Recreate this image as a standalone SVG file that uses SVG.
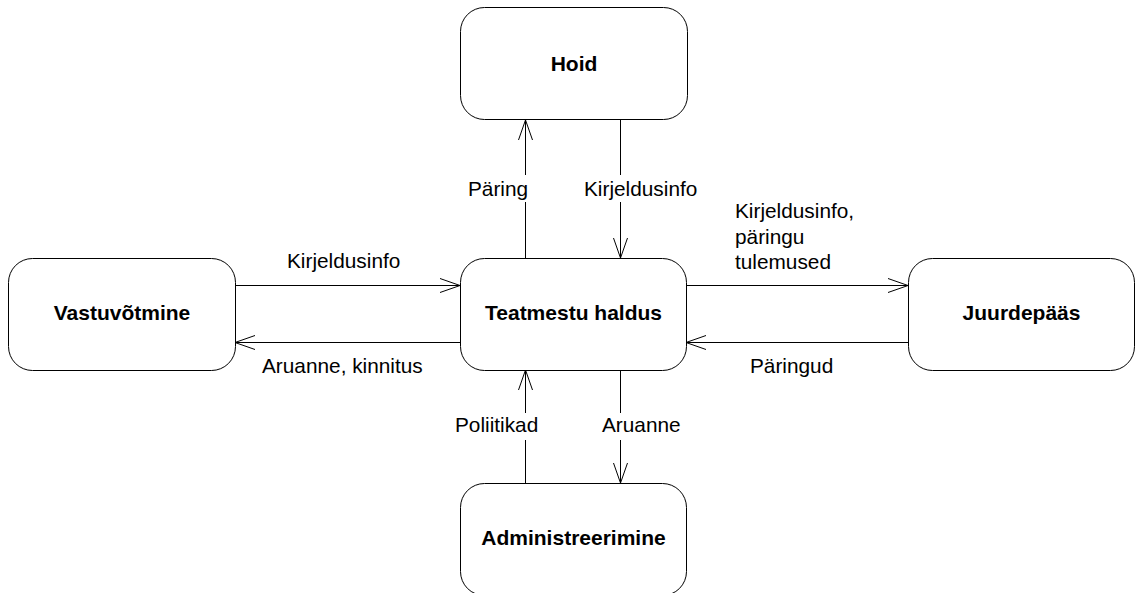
<svg xmlns="http://www.w3.org/2000/svg" width="1136" height="593" viewBox="0 0 1136 593">
  <style>
    .box { fill: #ffffff; stroke: #000000; stroke-width: 1; }
    .title { font-family: "Liberation Sans", Arial, sans-serif; font-size: 21px; font-weight: bold; fill: #000000; text-anchor: middle; }
    .flow { fill: none; stroke: #000000; stroke-width: 1; marker-end: url(#open); }
    .lbl { font-family: "Liberation Sans", Arial, sans-serif; font-size: 20.8px; fill: #000000; }
  </style>
  <defs>
    <marker id="open" markerUnits="userSpaceOnUse" markerWidth="24" markerHeight="18" viewBox="-22 -9 24 18" refX="0" refY="0" orient="auto" overflow="visible">
      <path d="M-20,-7 L0,0 L-20,7" fill="none" stroke="#000000" stroke-width="1"/>
    </marker>
  </defs>
  <rect width="1136" height="593" fill="#ffffff"/>

  <!-- data flows between the functional entities -->
  <g id="connectors">
    <path class="flow" d="M525.5,258 V202 M525.5,175 V120"/>
    <path class="flow" d="M620.5,120 V175 M620.5,202 V258"/>
    <path class="flow" d="M235,285.5 H460"/>
    <path class="flow" d="M460,342.5 H235"/>
    <path class="flow" d="M686,285.5 H908"/>
    <path class="flow" d="M908,342.5 H686"/>
    <path class="flow" d="M525.5,483 V440 M525.5,413 V370"/>
    <path class="flow" d="M620.5,370 V413 M620.5,440 V483"/>
  </g>

  <g id="labels">
    <text class="lbl" x="468" y="196">Päring</text>
    <text class="lbl" x="584" y="196">Kirjeldusinfo</text>
    <text class="lbl" x="287" y="268">Kirjeldusinfo</text>
    <text class="lbl" x="262" y="373">Aruanne, kinnitus</text>
    <text class="lbl" x="735" y="218">Kirjeldusinfo,</text>
    <text class="lbl" x="735" y="243.5">päringu</text>
    <text class="lbl" x="735" y="269">tulemused</text>
    <text class="lbl" x="750" y="373">Päringud</text>
    <text class="lbl" x="455" y="432">Poliitikad</text>
    <text class="lbl" x="602" y="432">Aruanne</text>
  </g>

  <g id="hoid">
    <rect class="box" x="460.5" y="7.5" width="227" height="112" rx="24" ry="24"/>
    <text class="title" x="574" y="71">Hoid</text>
  </g>
  <g id="teatmestu-haldus">
    <rect class="box" x="460.5" y="258.5" width="226" height="112" rx="24" ry="24"/>
    <text class="title" x="573.5" y="320">Teatmestu haldus</text>
  </g>
  <g id="vastuvotmine">
    <rect class="box" x="8.5" y="258.5" width="227" height="112" rx="24" ry="24"/>
    <text class="title" x="122" y="320">Vastuvõtmine</text>
  </g>
  <g id="juurdepaas">
    <rect class="box" x="908.5" y="258.5" width="226" height="112" rx="24" ry="24"/>
    <text class="title" x="1021.5" y="320">Juurdepääs</text>
  </g>
  <g id="administreerimine">
    <rect class="box" x="460.5" y="483.5" width="226" height="112" rx="24" ry="24"/>
    <text class="title" x="573.5" y="545">Administreerimine</text>
  </g>
</svg>
